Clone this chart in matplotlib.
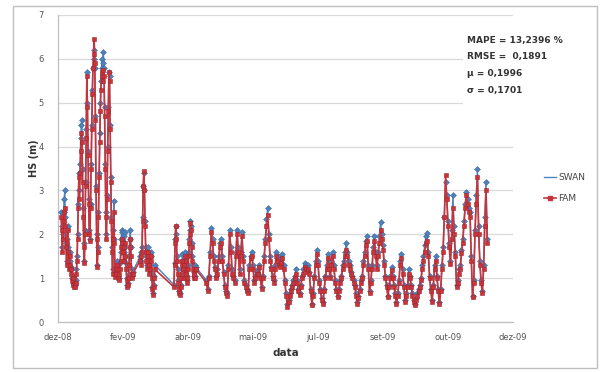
import datetime as dt

import matplotlib
matplotlib.use("Agg")
import matplotlib.pyplot as plt
import matplotlib.dates as mdates
import numpy as np
from matplotlib.lines import Line2D
from matplotlib.patches import Rectangle

# ---------------------------------------------------------------- data
axis_start = dt.date(2008, 12, 16)
tick_step_days = 53
tick_labels = ["dez-08", "fev-09", "abr-09", "mai-09",
               "jul-09", "set-09", "out-09", "dez-09"]

# each record block: first day (from axis_start) and sampling step in days
block_start_day = [2.5, 67.0, 94.5, 121.0]
block_step_day = [0.5, 0.5, 0.5, 1.0]

swan_b1 = [2.5, 2.2, 1.7, 2.0, 2.5, 2.8, 3.0, 2.4, 1.8, 1.4, 1.9, 2.2, 1.7, 1.3, 1.6, 1.4,
           1.2, 1.25, 1.0, 0.9, 1.05, 0.85, 0.9, 0.85, 0.95, 1.2, 1.5, 2.0, 2.7, 3.4, 3.0, 3.6,
           4.2, 4.5, 4.6, 3.5, 2.6, 1.8, 1.4, 2.1, 3.2, 4.4, 5.7, 5.0, 3.9, 2.8, 2.1, 1.9,
           2.7, 3.6, 4.5, 5.3, 5.8, 6.0, 6.2, 5.8, 4.7, 3.1, 2.0, 1.3, 1.7, 2.5, 3.4, 4.3,
           5.0, 5.5, 5.8, 6.0, 5.9, 6.15, 5.8, 4.9, 3.6, 2.5, 2.0, 2.9, 4.0, 4.9, 5.7, 5.6,
           4.5, 3.3, 2.4, 1.7, 1.2, 2.1, 2.75, 1.9, 1.1, 1.25, 1.15, 1.4, 1.3, 1.05, 1.0, 1.2,
           1.35, 1.6, 1.9, 2.1, 2.05, 1.85, 1.6, 1.95, 2.05, 1.7, 1.35, 1.0, 0.85, 0.9, 1.1, 1.5,
           1.9, 2.1, 1.7, 1.2, 1.05, 1.15]
fam_b1 = [2.4, 2.1, 1.6, 1.9, 2.3, 2.5, 2.6, 2.2, 1.7, 1.3, 1.8, 2.1, 1.6, 1.2, 1.5, 1.3,
          1.1, 1.2, 0.95, 0.85, 1.0, 0.8, 0.85, 0.8, 0.9, 1.1, 1.4, 1.9, 2.6, 3.3, 2.8, 3.4,
          3.9, 4.3, 4.1, 3.2, 2.4, 1.7, 1.35, 2.0, 3.1, 4.2, 5.6, 4.9, 3.8, 2.7, 2.0, 1.85,
          2.6, 3.5, 4.4, 5.2, 5.8, 6.1, 6.45, 5.9, 4.6, 3.0, 1.9, 1.25, 1.6, 2.4, 3.3, 4.1,
          4.8, 5.3, 5.6, 5.7, 5.5, 5.75, 5.6, 4.7, 3.5, 2.4, 1.9, 2.8, 3.9, 4.8, 5.7, 5.5,
          4.4, 3.2, 2.3, 1.6, 1.1, 1.9, 2.5, 1.8, 1.03, 1.2, 1.1, 1.3, 1.2, 1.0, 0.95, 1.1,
          1.2, 1.4, 1.7, 1.9, 1.8, 1.6, 1.4, 1.7, 1.8, 1.5, 1.2, 0.95, 0.8, 0.85, 1.0, 1.3,
          1.7, 1.9, 1.5, 1.1, 1.0, 1.1]

swan_b2 = [1.5, 1.6, 1.4, 1.7, 2.4, 3.1, 3.4, 3.0, 2.3, 1.7, 1.5, 1.3, 1.6, 1.7, 1.4, 1.2,
           1.3, 1.6, 1.5, 1.1, 0.8, 0.65, 0.85, 1.05, 1.3]
fam_b2 = [1.4, 1.5, 1.3, 1.6, 2.3, 3.1, 3.45, 3.0, 2.2, 1.6, 1.4, 1.2, 1.5, 1.6, 1.3, 1.1,
          1.2, 1.5, 1.4, 1.0, 0.75, 0.62, 0.8, 1.0, 1.2]

swan_b3 = [0.85, 1.35, 1.9, 2.2, 2.0, 1.5, 1.2, 0.95, 0.8, 0.7, 0.65, 0.85, 1.1, 1.4, 1.55, 1.3,
           1.1, 1.4, 1.6, 1.5, 1.2, 0.95, 1.05, 1.3, 1.6, 1.9, 2.1, 2.3, 2.2, 1.8, 1.5, 1.3,
           1.05, 1.15, 1.3, 1.05, 1.25]
fam_b3 = [0.8, 1.3, 1.8, 2.2, 1.9, 1.4, 1.1, 0.9, 0.75, 0.65, 0.62, 0.8, 1.0, 1.3, 1.4, 1.2,
          1.0, 1.3, 1.5, 1.4, 1.1, 0.9, 1.0, 1.2, 1.5, 1.8, 2.0, 2.25, 2.1, 1.7, 1.4, 1.2,
          1.0, 1.1, 1.2, 1.0, 1.2]

swan_b4 = [0.95, 0.75, 1.05, 1.6, 2.15, 1.9, 1.5, 1.25, 1.05, 1.2, 1.5, 1.8, 1.9, 1.5, 1.15, 0.85,
           0.7, 0.65, 1.3, 2.1, 1.7, 1.2, 1.05, 0.95, 1.6, 2.1, 1.7, 1.2, 1.6, 2.05, 1.5, 0.95,
           0.85, 0.75, 0.7, 1.3, 1.5, 1.6, 1.3, 0.95, 1.05, 1.15, 1.2, 1.3, 1.05, 0.8, 1.05, 1.5,
           1.9, 2.35, 2.6, 2.0, 1.5, 1.25, 1.05, 0.95, 1.3, 1.6, 1.5, 1.4, 1.3, 1.45, 1.55, 1.3,
           0.95, 0.65, 0.4, 0.5, 0.65, 0.75, 0.85, 0.95, 1.05, 1.2, 0.95, 0.75, 0.65, 0.85, 1.05, 1.2,
           1.35, 1.3, 1.2, 1.3, 1.15, 0.75, 0.42, 0.65, 1.05, 1.4, 1.65, 1.4, 0.95, 0.75, 0.55, 0.45,
           0.75, 1.05, 1.3, 1.55, 1.3, 1.05, 1.4, 1.6, 1.3, 0.95, 0.75, 0.6, 0.75, 0.95, 1.05, 1.3,
           1.4, 1.6, 1.8, 1.6, 1.4, 1.3, 1.15, 1.05, 0.95, 0.85, 0.65, 0.45, 0.6, 0.75, 0.95, 1.05,
           1.4, 1.6, 1.85, 1.95, 1.3, 0.7, 0.95, 1.3, 1.7, 1.95, 1.6, 1.3, 1.6, 1.95, 2.28, 2.0,
           1.75, 1.4, 1.05, 0.85, 0.6, 0.85, 1.05, 1.25, 1.05, 0.85, 0.65, 0.45, 0.65, 0.95, 1.4, 1.55,
           1.2, 0.85, 0.5, 0.65, 0.85, 1.2, 1.05, 0.85, 0.65, 0.5, 0.42, 0.55, 0.65, 0.75, 0.85, 1.0,
           1.3, 1.5, 1.75, 1.95, 2.03, 1.6, 1.05, 0.75, 0.5, 0.85, 1.3, 1.5, 1.05, 0.75, 0.45, 0.75,
           1.3, 1.7, 2.4, 3.2, 2.9, 2.3, 1.8, 1.4, 2.1, 2.9, 2.2, 1.6, 0.85, 0.95, 1.2, 1.3,
           1.65, 1.9, 2.3, 2.7, 2.96, 2.8, 2.6, 2.5, 1.5, 0.6, 0.95, 2.1, 2.9, 3.5, 2.2, 1.4,
           0.95, 0.7, 1.3, 2.4, 3.2, 1.9]
fam_b4 = [0.9, 0.7, 1.0, 1.5, 2.05, 1.8, 1.4, 1.2, 1.0, 1.1, 1.4, 1.7, 1.8, 1.4, 1.1, 0.8,
          0.65, 0.6, 1.2, 2.0, 1.6, 1.1, 1.0, 0.9, 1.5, 2.0, 1.6, 1.1, 1.5, 1.95, 1.4, 0.9,
          0.8, 0.7, 0.65, 1.2, 1.45, 1.5, 1.2, 0.9, 1.0, 1.1, 1.1, 1.25, 1.0, 0.75, 1.0, 1.4,
          1.8, 2.2, 2.45, 1.9, 1.4, 1.2, 1.0, 0.9, 1.2, 1.5, 1.4, 1.3, 1.25, 1.35, 1.45, 1.2,
          0.9, 0.6, 0.35, 0.45, 0.6, 0.7, 0.8, 0.9, 1.0, 1.1, 0.9, 0.7, 0.62, 0.8, 1.0, 1.1,
          1.25, 1.2, 1.15, 1.2, 1.1, 0.7, 0.38, 0.6, 1.0, 1.3, 1.55, 1.3, 0.9, 0.7, 0.5, 0.4,
          0.7, 1.0, 1.2, 1.45, 1.2, 1.0, 1.3, 1.5, 1.2, 0.9, 0.7, 0.57, 0.7, 0.9, 1.0, 1.2,
          1.3, 1.5, 1.65, 1.5, 1.3, 1.2, 1.1, 1.0, 0.9, 0.8, 0.6, 0.4, 0.55, 0.7, 0.9, 1.0,
          1.3, 1.5, 1.75, 1.85, 1.2, 0.65, 0.9, 1.2, 1.6, 1.85, 1.5, 1.2, 1.5, 1.8, 2.1, 1.9,
          1.65, 1.3, 1.0, 0.8, 0.57, 0.8, 1.0, 1.18, 1.0, 0.8, 0.6, 0.4, 0.6, 0.9, 1.3, 1.45,
          1.1, 0.8, 0.45, 0.6, 0.8, 1.1, 1.0, 0.8, 0.6, 0.45, 0.38, 0.5, 0.6, 0.7, 0.8, 0.95,
          1.2, 1.4, 1.6, 1.8, 1.85, 1.5, 1.0, 0.7, 0.45, 0.8, 1.2, 1.4, 1.0, 0.7, 0.4, 0.7,
          1.2, 1.6, 2.4, 3.35, 2.8, 2.2, 1.7, 1.33, 1.9, 2.6, 2.0, 1.5, 0.8, 0.9, 1.1, 1.2,
          1.57, 1.8, 2.2, 2.6, 2.9, 2.7, 2.5, 2.4, 1.4, 0.57, 0.9, 2.0, 2.7, 3.3, 2.0, 1.3,
          0.9, 0.65, 1.2, 2.2, 3.0, 1.8]

stats_lines = ["MAPE = 13,2396 %", "RMSE =  0,1891", "\u03bc = 0,1996", "\u03c3 = 0,1701"]
y_ticks = [0, 1, 2, 3, 4, 5, 6, 7]

# ---------------------------------------------------------------- helpers
origin = mdates.date2num(axis_start)


def block_dates(blocks):
    xs = []
    for start, step, vals in zip(block_start_day, block_step_day, blocks):
        xs.append(origin + start + step * np.arange(len(vals)))
    return np.concatenate(xs)


swan_x = block_dates([swan_b1, swan_b2, swan_b3, swan_b4])
swan_y = np.concatenate([swan_b1, swan_b2, swan_b3, swan_b4])
fam_x = block_dates([fam_b1, fam_b2, fam_b3, fam_b4])
fam_y = np.concatenate([fam_b1, fam_b2, fam_b3, fam_b4])

# ---------------------------------------------------------------- figure
W, H = 606, 372
fig = plt.figure(figsize=(W / 100, H / 100), dpi=100)
fig.patch.set_facecolor("white")


def fx(px):
    return px / W


def fy(py):
    return 1 - py / H


# chart-area frame
fig.patches.append(Rectangle((fx(13), fy(368)), fx(597) - fx(13), fy(6) - fy(368),
                             transform=fig.transFigure, facecolor="white",
                             edgecolor="#bfbfbf", lw=1.0, zorder=-1))

ax = fig.add_axes([fx(58), fy(322), fx(513) - fx(58), fy(15) - fy(322)])
ax.set_facecolor("none")

blue = "#4F81BD"
red = "#C8343A"
ax.plot(swan_x, swan_y, color=blue, lw=1.0, marker="D", ms=3.0,
        mfc=blue, mec="#3f6c9e", mew=0.4, zorder=3)
ax.plot(fam_x, fam_y, color=red, lw=1.2, marker="s", ms=3.0,
        mfc=red, mec="#a3262b", mew=0.4, zorder=4)

ticks_x = [origin + tick_step_days * i for i in range(len(tick_labels))]
ax.set_xlim(ticks_x[0], ticks_x[-1])
ax.set_xticks(ticks_x)
ax.set_xticklabels(tick_labels)
ax.set_ylim(0, 7)
ax.set_yticks(y_ticks)

ax.yaxis.grid(True, color="#d9d9d9", lw=0.9, zorder=0)
ax.set_axisbelow(True)
for s in ("top", "right"):
    ax.spines[s].set_visible(False)
for s in ("left", "bottom"):
    ax.spines[s].set_color("#bfbfbf")
    ax.spines[s].set_linewidth(0.9)
ax.tick_params(axis="both", length=0, labelsize=6, labelcolor="#555555")
ax.tick_params(axis="x", pad=8)
ax.tick_params(axis="y", pad=10)

fig.text(fx(286), fy(353), "data", ha="center", va="center",
         fontsize=7.5, fontweight="bold", color="#333333")
fig.text(fx(34), fy(158), "HS (m)", ha="center", va="center", rotation=90,
         fontsize=7, fontweight="bold", color="#333333")

# statistics box over the upper-right gridlines
fig.patches.append(Rectangle((fx(463), fy(108)), fx(596) - fx(463), fy(24) - fy(108),
                             transform=fig.transFigure, facecolor="white",
                             edgecolor="none", zorder=2))
for line, py in zip(stats_lines, [40, 56, 73, 90]):
    fig.text(fx(467), fy(py), line, ha="left", va="center", fontsize=6.5,
             fontweight="bold", color="#333333", zorder=3)

handles = [Line2D([], [], color=blue, lw=1.0),
           Line2D([], [], color=red, lw=1.2, marker="s", ms=3.0)]
fig.legend(handles, ["SWAN", "FAM"], loc="center left",
           bbox_to_anchor=(fx(536), fy(188)), frameon=False, fontsize=6.5,
           handlelength=1.3, handletextpad=0.3, labelspacing=1.3,
           labelcolor="#444444")

fig.savefig("out.png", dpi=100)
